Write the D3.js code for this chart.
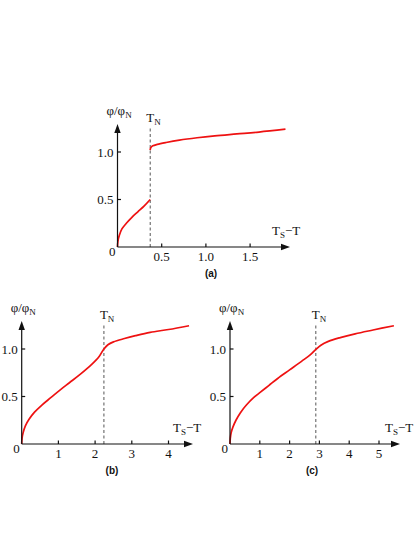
<!DOCTYPE html>
<html>
<head>
<meta charset="utf-8">
<script src="https://cdn.jsdelivr.net/npm/d3@7"></script>
<style>
  body { margin: 0; background: #fff; }
  svg { display: block; }
  .tick-label { font-family: "Liberation Serif", "Times New Roman", serif; font-size: 13px; fill: #111; }
  .axis-title { font-family: "Liberation Serif", "Times New Roman", serif; font-size: 13px; fill: #111; }
  .panel-label { font-family: "Liberation Sans", Arial, sans-serif; font-size: 10px; font-weight: bold; fill: #111; }
</style>
</head>
<body>
<svg width="415" height="537"></svg>
<script>
"use strict";

// panel (a): two branches, jump at T_N
var aLowX = [0, 0.005, 0.02, 0.05, 0.1, 0.16, 0.23, 0.3, 0.37];
var aLowY = [0, 0.06, 0.12, 0.19, 0.25, 0.31, 0.37, 0.43, 0.5];
var aHighX = [0.37, 0.372, 0.38, 0.4, 0.45, 0.55, 0.7, 0.9, 1.1, 1.35, 1.6, 1.9];
var aHighY = [1.02, 1.035, 1.05, 1.065, 1.08, 1.1, 1.125, 1.15, 1.17, 1.19, 1.21, 1.24];
var aTicksX = [0.5, 1.0, 1.5];

// panel (b)
var bX = [0, 0.01, 0.04, 0.1, 0.2, 0.35, 0.55, 0.8, 1.05, 1.3, 1.6, 1.9, 2.1, 2.24, 2.35, 2.5, 2.8, 3.1, 3.5, 4.0, 4.56];
var bY = [0, 0.06, 0.12, 0.19, 0.26, 0.335, 0.41, 0.49, 0.57, 0.645, 0.735, 0.835, 0.915, 1.0, 1.045, 1.075, 1.11, 1.14, 1.175, 1.205, 1.245];
var bTicksX = [1, 2, 3, 4];

// panel (c)
var cX = [0, 0.01, 0.04, 0.1, 0.2, 0.35, 0.55, 0.8, 1.0, 1.3, 1.6, 2.0, 2.4, 2.7, 2.88, 3.05, 3.3, 3.7, 4.2, 4.8, 5.5];
var cY = [0, 0.06, 0.12, 0.18, 0.25, 0.33, 0.41, 0.49, 0.54, 0.615, 0.69, 0.78, 0.87, 0.94, 0.995, 1.04, 1.08, 1.12, 1.16, 1.2, 1.245];
var cTicksX = [1, 2, 3, 4, 5];

var ticksY = [0.5, 1.0];
var tN = { a: 0.37, b: 2.24, c: 2.88 };

var svg = d3.select("svg");
var red = "#ee1111";

function zip(xs, ys) {
  return xs.map(function (x, i) { return [x, ys[i]]; });
}

function panel(opt) {
  var x = d3.scaleLinear().domain([0, 1]).range([opt.ox, opt.ox + opt.unit]);
  var y = d3.scaleLinear().domain([0, 1]).range([opt.oy, opt.oy - 95]);
  var g = svg.append("g");
  var xEnd = opt.xEnd, yTop = opt.oy - 123;

  // T_N dashed line
  var xn = x(opt.tn);
  g.append("line").attr("x1", xn).attr("x2", xn).attr("y1", opt.oy).attr("y2", opt.oy - 120)
    .attr("stroke", "#555").attr("stroke-width", 1).attr("stroke-dasharray", "3,2.5");
  var tl = g.append("text").attr("class", "axis-title").attr("x", xn - 4).attr("y", opt.oy - 125);
  tl.append("tspan").text("T");
  tl.append("tspan").attr("dy", 3).attr("font-size", "9px").text("N");

  // curves
  var line = d3.line().x(function (d) { return x(d[0]); }).y(function (d) { return y(d[1]); })
    .curve(d3.curveCatmullRom.alpha(0.5));
  opt.series.forEach(function (s) {
    g.append("path").attr("d", line(s)).attr("fill", "none")
      .attr("stroke", red).attr("stroke-width", 1.7);
  });

  // axes
  g.append("line").attr("x1", opt.ox).attr("y1", opt.oy).attr("x2", xEnd - 6).attr("y2", opt.oy)
    .attr("stroke", "#111").attr("stroke-width", 1.2);
  g.append("line").attr("x1", opt.ox).attr("y1", opt.oy).attr("x2", opt.ox).attr("y2", yTop + 6)
    .attr("stroke", "#111").attr("stroke-width", 1.2);
  g.append("path").attr("d", "M" + xEnd + "," + opt.oy + "L" + (xEnd - 9) + "," + (opt.oy - 3.2) +
    "L" + (xEnd - 9) + "," + (opt.oy + 3.2) + "Z").attr("fill", "#111");
  g.append("path").attr("d", "M" + opt.ox + "," + yTop + "L" + (opt.ox - 3.2) + "," + (yTop + 9) +
    "L" + (opt.ox + 3.2) + "," + (yTop + 9) + "Z").attr("fill", "#111");

  // ticks
  opt.ticksX.forEach(function (t) {
    g.append("line").attr("x1", x(t)).attr("x2", x(t)).attr("y1", opt.oy).attr("y2", opt.oy - 3.5)
      .attr("stroke", "#111").attr("stroke-width", 1.2);
    g.append("text").attr("class", "tick-label").attr("x", x(t)).attr("y", opt.oy + 14)
      .attr("text-anchor", "middle").text(opt.fmt(t));
  });
  ticksY.forEach(function (t) {
    g.append("line").attr("x1", opt.ox).attr("x2", opt.ox + 3.5).attr("y1", y(t)).attr("y2", y(t))
      .attr("stroke", "#111").attr("stroke-width", 1.2);
    g.append("text").attr("class", "tick-label").attr("x", opt.ox - 4).attr("y", y(t) + 4.5)
      .attr("text-anchor", "end").text(d3.format(".1f")(t));
  });
  g.append("text").attr("class", "tick-label").attr("x", opt.ox - 2).attr("y", opt.oy + 8.5)
    .attr("text-anchor", "end").text("0");

  // axis titles
  var yt = g.append("text").attr("class", "axis-title").attr("x", opt.ox - 11).attr("y", yTop - 9);
  yt.append("tspan").text("φ/φ");
  yt.append("tspan").attr("dy", 3).attr("font-size", "9px").text("N");

  var xt = g.append("text").attr("class", "axis-title").attr("x", xEnd - opt.xtOff).attr("y", opt.oy - 12);
  xt.append("tspan").text("T");
  xt.append("tspan").attr("dy", 3).attr("font-size", "9px").text("S");
  xt.append("tspan").attr("dy", -3).text("\u2212T");

  g.append("text").attr("class", "panel-label").attr("x", opt.lx).attr("y", opt.oy + 30)
    .attr("text-anchor", "middle").text(opt.label);
}

panel({
  ox: 117.5, oy: 247, unit: 88.4, xEnd: 290, xtOff: 18,
  series: [zip(aLowX, aLowY), zip(aHighX, aHighY)],
  ticksX: aTicksX, fmt: d3.format(".1f"), tn: tN.a, lx: 211, label: "(a)"
});
panel({
  ox: 21.7, oy: 444, unit: 36.7, xEnd: 193, xtOff: 20,
  series: [zip(bX, bY)],
  ticksX: bTicksX, fmt: d3.format("d"), tn: tN.b, lx: 112, label: "(b)"
});
panel({
  ox: 230, oy: 444, unit: 29.8, xEnd: 400, xtOff: 15,
  series: [zip(cX, cY)],
  ticksX: cTicksX, fmt: d3.format("d"), tn: tN.c, lx: 312, label: "(c)"
});
</script>
</body>
</html>
